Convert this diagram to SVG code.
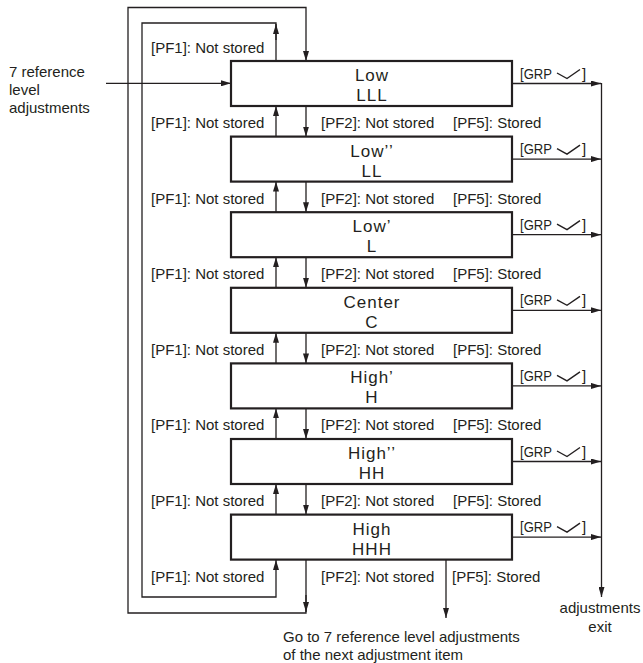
<svg xmlns="http://www.w3.org/2000/svg" width="643" height="663" viewBox="0 0 643 663">
<style>
text{font-family:"Liberation Sans",Arial,sans-serif;fill:#231f20}
.lbl{font-size:15px}
.bx{font-size:17px;letter-spacing:1px;text-anchor:middle}
.box{fill:#fff;stroke:#231f20;stroke-width:2.2}
.ln{fill:none;stroke:#231f20;stroke-width:1.3}
.chk{fill:none;stroke:#231f20;stroke-width:1.4}
</style>
<defs>
<marker id="ah" viewBox="0 0 10 6" refX="10" refY="3" markerWidth="10" markerHeight="6" markerUnits="userSpaceOnUse" orient="auto">
<path d="M0,0 L10,3 L0,6 Z" fill="#231f20"/>
</marker>
<g id="grp">
<text class="lbl" x="0" y="0" textLength="32" lengthAdjust="spacingAndGlyphs">[GRP</text>
<polyline class="chk" points="37,-5.5 47,0 60,-9"/>
<text class="lbl" x="62" y="0">]</text>
</g>
</defs>

<g id="connectors">
<!-- input -->
<line class="ln" x1="106" y1="83.3" x2="231" y2="83.3" marker-end="url(#ah)"/>
<!-- inner loop -->
<polyline class="ln" points="276,61 276,23 142,23 142,597 276,597 276,560" marker-end="url(#ah)"/>
<line class="ln" x1="276" y1="40" x2="276" y2="24" marker-end="url(#ah)"/>
<!-- outer loop -->
<polyline class="ln" points="306,560 306,613 128,613 128,7.5 306,7.5 306,61" marker-end="url(#ah)"/>
<line class="ln" x1="306" y1="595" x2="306" y2="612" marker-end="url(#ah)"/>
<!-- between boxes -->
<line class="ln" x1="276" y1="136.6" x2="276" y2="106" marker-end="url(#ah)"/>
<line class="ln" x1="306" y1="106" x2="306" y2="136.6" marker-end="url(#ah)"/>
<line class="ln" x1="276" y1="212.2" x2="276" y2="181.6" marker-end="url(#ah)"/>
<line class="ln" x1="306" y1="181.6" x2="306" y2="212.2" marker-end="url(#ah)"/>
<line class="ln" x1="276" y1="287.8" x2="276" y2="257.2" marker-end="url(#ah)"/>
<line class="ln" x1="306" y1="257.2" x2="306" y2="287.8" marker-end="url(#ah)"/>
<line class="ln" x1="276" y1="363.4" x2="276" y2="332.8" marker-end="url(#ah)"/>
<line class="ln" x1="306" y1="332.8" x2="306" y2="363.4" marker-end="url(#ah)"/>
<line class="ln" x1="276" y1="439" x2="276" y2="408.4" marker-end="url(#ah)"/>
<line class="ln" x1="306" y1="408.4" x2="306" y2="439" marker-end="url(#ah)"/>
<line class="ln" x1="276" y1="514.6" x2="276" y2="484" marker-end="url(#ah)"/>
<line class="ln" x1="306" y1="484" x2="306" y2="514.6" marker-end="url(#ah)"/>
<!-- PF5 exit -->
<line class="ln" x1="446" y1="560" x2="446" y2="618" marker-end="url(#ah)"/>
<!-- GRP arrows -->
<line class="ln" x1="512" y1="83.5" x2="601" y2="83.5" marker-end="url(#ah)"/>
<line class="ln" x1="512" y1="159.1" x2="601" y2="159.1" marker-end="url(#ah)"/>
<line class="ln" x1="512" y1="234.7" x2="601" y2="234.7" marker-end="url(#ah)"/>
<line class="ln" x1="512" y1="310.3" x2="601" y2="310.3" marker-end="url(#ah)"/>
<line class="ln" x1="512" y1="385.9" x2="601" y2="385.9" marker-end="url(#ah)"/>
<line class="ln" x1="512" y1="461.5" x2="601" y2="461.5" marker-end="url(#ah)"/>
<line class="ln" x1="512" y1="537.1" x2="601" y2="537.1" marker-end="url(#ah)"/>
<line class="ln" x1="601.5" y1="83" x2="601.5" y2="597" marker-end="url(#ah)"/>
</g>

<g id="labels">
<text class="lbl" x="9" y="77">7 reference</text>
<text class="lbl" x="9" y="95">level</text>
<text class="lbl" x="9" y="113">adjustments</text>
<text class="lbl" x="151" y="53">[PF1]: Not stored</text>
<g id="row1"><text class="lbl" x="151" y="128">[PF1]: Not stored</text><text class="lbl" x="321" y="128">[PF2]: Not stored</text><text class="lbl" x="453" y="128">[PF5]: Stored</text></g>
<g id="row2"><text class="lbl" x="151" y="203.6">[PF1]: Not stored</text><text class="lbl" x="321" y="203.6">[PF2]: Not stored</text><text class="lbl" x="453" y="203.6">[PF5]: Stored</text></g>
<g id="row3"><text class="lbl" x="151" y="279.2">[PF1]: Not stored</text><text class="lbl" x="321" y="279.2">[PF2]: Not stored</text><text class="lbl" x="453" y="279.2">[PF5]: Stored</text></g>
<g id="row4"><text class="lbl" x="151" y="354.8">[PF1]: Not stored</text><text class="lbl" x="321" y="354.8">[PF2]: Not stored</text><text class="lbl" x="453" y="354.8">[PF5]: Stored</text></g>
<g id="row5"><text class="lbl" x="151" y="430.4">[PF1]: Not stored</text><text class="lbl" x="321" y="430.4">[PF2]: Not stored</text><text class="lbl" x="453" y="430.4">[PF5]: Stored</text></g>
<g id="row6"><text class="lbl" x="151" y="506">[PF1]: Not stored</text><text class="lbl" x="321" y="506">[PF2]: Not stored</text><text class="lbl" x="453" y="506">[PF5]: Stored</text></g>
<g id="row7"><text class="lbl" x="151" y="581.6">[PF1]: Not stored</text><text class="lbl" x="321" y="581.6">[PF2]: Not stored</text><text class="lbl" x="452" y="581.6">[PF5]: Stored</text></g>
<text class="lbl" x="283" y="642">Go to 7 reference level adjustments</text>
<text class="lbl" x="283" y="660">of the next adjustment item</text>
<text class="lbl" x="600" y="613" text-anchor="middle">adjustments</text>
<text class="lbl" x="600" y="632" text-anchor="middle">exit</text>
</g>

<g id="node-low">
<rect class="box" x="231" y="61" width="281" height="45"/>
<text class="bx" x="372" y="81">Low</text><text class="bx" x="372" y="101">LLL</text>
<use href="#grp" x="520" y="78.5"/>
</g>
<g id="node-low2">
<rect class="box" x="231" y="136.6" width="281" height="45"/>
<text class="bx" x="372" y="156.6">Low’’</text><text class="bx" x="372" y="176.6">LL</text>
<use href="#grp" x="520" y="154.1"/>
</g>
<g id="node-low1">
<rect class="box" x="231" y="212.2" width="281" height="45"/>
<text class="bx" x="372" y="232.2">Low’</text><text class="bx" x="372" y="252.2">L</text>
<use href="#grp" x="520" y="229.7"/>
</g>
<g id="node-center">
<rect class="box" x="231" y="287.8" width="281" height="45"/>
<text class="bx" x="372" y="307.8">Center</text><text class="bx" x="372" y="327.8">C</text>
<use href="#grp" x="520" y="305.3"/>
</g>
<g id="node-high1">
<rect class="box" x="231" y="363.4" width="281" height="45"/>
<text class="bx" x="372" y="383.4">High’</text><text class="bx" x="372" y="403.4">H</text>
<use href="#grp" x="520" y="380.9"/>
</g>
<g id="node-high2">
<rect class="box" x="231" y="439" width="281" height="45"/>
<text class="bx" x="372" y="459">High’’</text><text class="bx" x="372" y="479">HH</text>
<use href="#grp" x="520" y="456.5"/>
</g>
<g id="node-high">
<rect class="box" x="231" y="514.6" width="281" height="45"/>
<text class="bx" x="372" y="534.6">High</text><text class="bx" x="372" y="554.6">HHH</text>
<use href="#grp" x="520" y="532.1"/>
</g>
</svg>
